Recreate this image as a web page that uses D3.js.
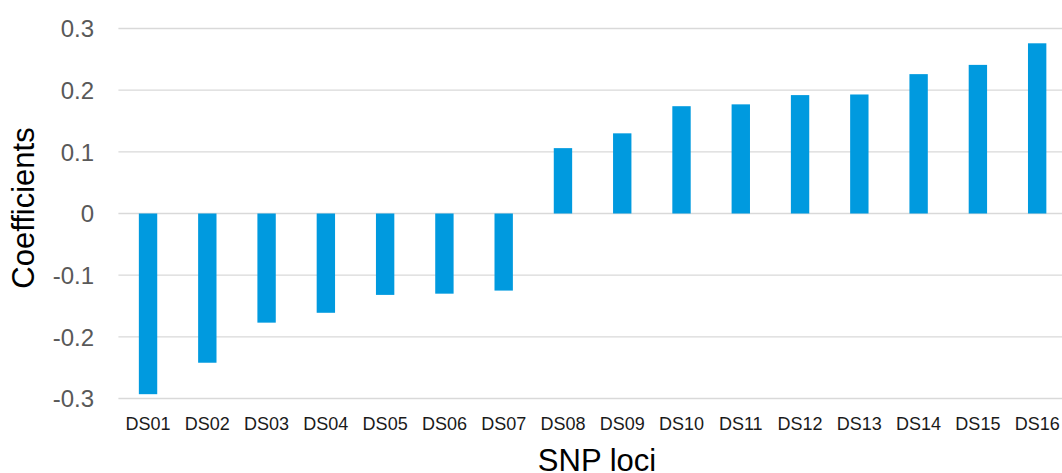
<!DOCTYPE html>
<html><head><meta charset="utf-8">
<script src="https://cdn.jsdelivr.net/npm/d3@7"></script>
<style>html,body{margin:0;padding:0;background:#fff;overflow:hidden}</style>
</head><body>
<svg id="c" width="1062" height="473"></svg>
<script>
const categories = ["DS01","DS02","DS03","DS04","DS05","DS06","DS07","DS08","DS09","DS10","DS11","DS12","DS13","DS14","DS15","DS16"];
const values = [-0.293,-0.242,-0.177,-0.161,-0.132,-0.130,-0.125,0.106,0.130,0.174,0.177,0.192,0.193,0.226,0.241,0.276];
const yTicks = [-0.3,-0.2,-0.1,0,0.1,0.2,0.3];
const yTickLabels = ["-0.3","-0.2","-0.1","0","0.1","0.2","0.3"];

const svg = d3.select("#c");
const mLeft = 118.4, mRight = 1066.8, mTop = 28.5, mBottom = 398.5;
const x = d3.scaleBand().domain(categories).range([mLeft, mRight]).paddingInner(0.69).paddingOuter(0.345);
const y = d3.scaleLinear().domain([-0.3, 0.3]).range([mBottom, mTop]);

// gridlines
svg.append("g").selectAll("line").data(yTicks).join("line")
  .attr("x1", mLeft).attr("x2", mRight)
  .attr("y1", d => y(d)).attr("y2", d => y(d))
  .attr("stroke", "#d9d9d9").attr("stroke-width", 1.3);

// y axis labels
const yAxis = d3.axisLeft(y).tickValues(yTicks).tickFormat((d,i) => yTickLabels[i]).tickSize(0).tickPadding(0);
const yg = svg.append("g").attr("transform", `translate(94,0)`).call(yAxis);
yg.select(".domain").remove();
yg.selectAll("text").attr("font-family","Liberation Sans, Arial, sans-serif").attr("font-size",24).attr("fill","#595959").attr("dy","0.35em");

// bars
svg.append("g").selectAll("rect").data(values).join("rect")
  .attr("x", (d,i) => x(categories[i]))
  .attr("width", x.bandwidth())
  .attr("y", d => y(Math.max(0,d)))
  .attr("height", d => Math.abs(y(d) - y(0)))
  .attr("fill", "#009ADF");

// x axis labels
const xAxis = d3.axisBottom(x).tickSize(0).tickPadding(0);
const xg = svg.append("g").attr("transform", `translate(0,417)`).call(xAxis);
xg.select(".domain").remove();
xg.selectAll("text").attr("font-family","Liberation Sans, Arial, sans-serif").attr("font-size",18).attr("fill","#1a1a1a").attr("dy","0.71em");

// titles
svg.append("text").attr("x", 597).attr("y", 471).attr("text-anchor","middle")
  .attr("font-family","Liberation Sans, Arial, sans-serif").attr("font-size",31).attr("fill","#000").text("SNP loci");
svg.append("text").attr("transform","translate(34,208) rotate(-90)").attr("text-anchor","middle")
  .attr("font-family","Liberation Sans, Arial, sans-serif").attr("font-size",31).attr("fill","#000").text("Coefficients");
</script>
</body></html>
